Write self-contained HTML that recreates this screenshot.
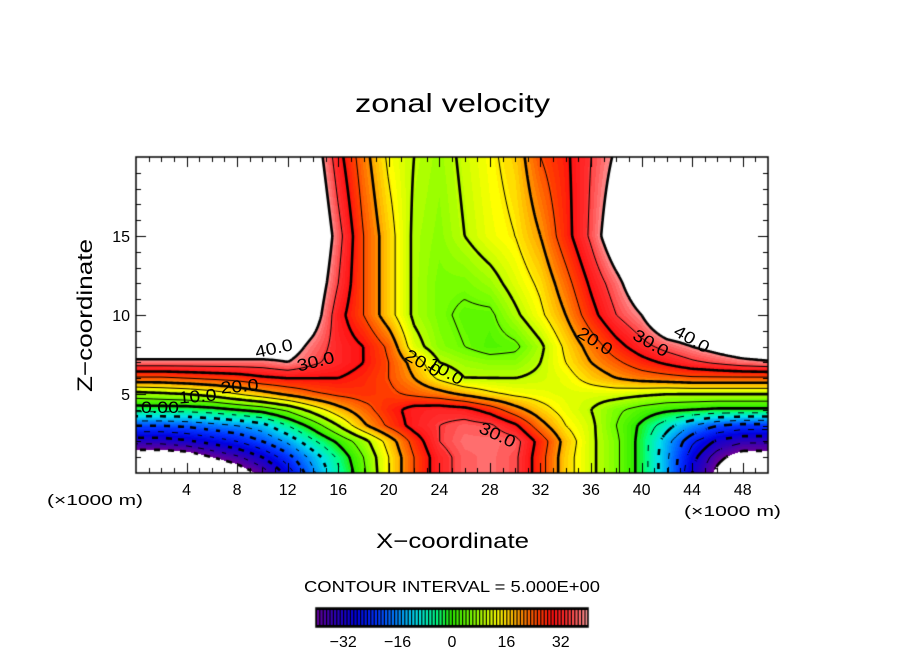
<!DOCTYPE html>
<html><head><meta charset="utf-8"><style>
html,body{margin:0;padding:0;background:#fff;width:904px;height:654px;overflow:hidden}
#wrap{position:relative;width:904px;height:654px;font-family:"Liberation Sans",sans-serif}
canvas{position:absolute;left:0;top:0}
svg{position:absolute;left:0;top:0}
text{font-family:"Liberation Sans",sans-serif;fill:#000}
</style></head><body>
<div id="wrap">
<canvas id="cv" width="904" height="654"></canvas>
<svg id="sv" width="904" height="654">
<text x="355" y="112" font-size="26" textLength="195" lengthAdjust="spacingAndGlyphs">zonal velocity</text>
<text x="376" y="548" font-size="21" textLength="153" lengthAdjust="spacingAndGlyphs">X−coordinate</text>
<text x="0" y="0" font-size="21" textLength="153" lengthAdjust="spacingAndGlyphs" transform="translate(92,392) rotate(-90)">Z−coordinate</text>
<text x="47" y="505" font-size="15" textLength="96" lengthAdjust="spacingAndGlyphs">(×1000 m)</text>
<text x="684" y="516" font-size="15" textLength="97" lengthAdjust="spacingAndGlyphs">(×1000 m)</text>
<text x="304" y="592" font-size="16" textLength="296" lengthAdjust="spacingAndGlyphs">CONTOUR INTERVAL = 5.000E+00</text>
<g id="clabels" font-size="17">
<text transform="translate(275,354) rotate(-12)" text-anchor="middle" textLength="38" lengthAdjust="spacingAndGlyphs">40.0</text>
<text transform="translate(317,367) rotate(-14)" text-anchor="middle" textLength="38" lengthAdjust="spacingAndGlyphs">30.0</text>
<text transform="translate(240,392) rotate(-5)" text-anchor="middle" textLength="38" lengthAdjust="spacingAndGlyphs">20.0</text>
<text transform="translate(198,402) rotate(-5)" text-anchor="middle" textLength="38" lengthAdjust="spacingAndGlyphs">10.0</text>
<text transform="translate(160,413)" text-anchor="middle" textLength="38" lengthAdjust="spacingAndGlyphs">0.00</text>
<text transform="translate(420,368) rotate(30)" text-anchor="middle" textLength="38" lengthAdjust="spacingAndGlyphs">20.0</text>
<text transform="translate(443,376) rotate(30)" text-anchor="middle" textLength="38" lengthAdjust="spacingAndGlyphs">10.0</text>
<text transform="translate(495,440) rotate(25)" text-anchor="middle" textLength="38" lengthAdjust="spacingAndGlyphs">30.0</text>
<text transform="translate(592,346) rotate(32)" text-anchor="middle" textLength="38" lengthAdjust="spacingAndGlyphs">20.0</text>
<text transform="translate(648,348) rotate(30)" text-anchor="middle" textLength="38" lengthAdjust="spacingAndGlyphs">30.0</text>
<text transform="translate(689,344) rotate(30)" text-anchor="middle" textLength="38" lengthAdjust="spacingAndGlyphs">40.0</text>
</g>
<g id="axes"></g>
</svg>
</div>
<script>
// ---- data ----
const xCoords = [0,2,4,6,8,10,12,14,16,18,20,22,24,26,28,30,32,34,36,38,40,42,44,46,48,50];
const zCoords = [0,1,2,3,4,5,6,7,8,10,12,15,20];
const row0  = [-50,-50,-50,-50,-45,-38,-28,-16,-6,4,15,25,33,37,38,36,27,17,11,6,-2,-14,-30,-42,-50,-50];
const row1  = [-46,-46,-45,-40,-36,-30,-22,-13,-4,5,15,25,33,37,38,36,27,17,11,6,-2,-14,-28,-38,-44,-44];
const row2  = [-33,-33,-31,-28,-25,-20,-14,-6,1,8,17,27,35,38,38,37,28,18,11,6,-2,-13,-24,-31,-34,-34];
const row3  = [-20,-20,-19,-17,-15,-12,-5,2,10,19,26,32,35,37,36,31,22,15,11,5,-1,-8,-15,-20,-22,-22];
const row4  = [-3,-3,-3,-2,0,2,6,12,18,23,28,32,33,32,28,22,17,13,10,6,3,1,0,-1,-1,-1];
const row5  = [8,9,10,12,15,18,21,24,26,27,26,24,22,19,16,14,13,12,12,12,11,10,10,10,10,10];
const row6  = [24,24,25,26,27,29,30,30,30,28,25,20,14,10,10,10,11,13,17,20,22,23,24,24,24,24];
const row7  = [38,38,38,38,38,38,40,36,33,30,25,18,10,8,7,7,10,15,20,24,28,31,34,36,38,39];
const row8  = [48,48,48,48,48,48,44,38,33,30,24,12,7,5,3,4,9,16,22,28,33,37,40,43,46,48];
const row10 = [50,50,50,50,50,50,50,44,32,25,17,9,6,4,4,9,14,20,28,35,40,50,50,50,50,50];
const row12 = [50,50,50,50,50,50,50,46,35,25,17,9,6,6,8,12,16,23,31,38,46,50,50,50,50,50];
const row15 = [50,50,50,50,50,50,50,50,37,25,17,9,7,10,13,15,20,28,36,46,50,50,50,50,50,50];
const row20 = [50,50,50,50,50,50,50,45,32,22,14,10,8,11,14,17,25,29,35,41,50,50,50,50,50,50];
const fieldRows = [row0,row1,row2,row3,row4,row5,row6,row7,row8,row10,row12,row15,row20];
const levels = [-40,-35,-30,-25,-20,-15,-10,-5,0,5,10,15,20,25,30,35,40];
const xTickLabels = [4,8,12,16,20,24,28,32,36,40,44,48];
const zTickLabels = [5,10,15];
const cbarTickLabels = [-32,-16,0,16,32];

// ---- layout ----
const PX0=136, PX1=768, PY0=157, PY1=473;
const XMIN=0, XMAX=50, ZMIN=0, ZMAX=20;
const sx = x => PX0 + (x-XMIN)/(XMAX-XMIN)*(PX1-PX0);
const sz = z => PY1 - (z-ZMIN)/(ZMAX-ZMIN)*(PY1-PY0);
const ix = px => XMIN + (px-PX0)/(PX1-PX0)*(XMAX-XMIN);
const iz = py => ZMIN + (PY1-py)/(PY1-PY0)*(ZMAX-ZMIN);

function findIdx(arr,v){let i=0;while(i<arr.length-2&&v>arr[i+1])i++;return i;}
function field(x,z){
  const i=findIdx(xCoords,x), j=findIdx(zCoords,z);
  const tx=Math.min(1,Math.max(0,(x-xCoords[i])/(xCoords[i+1]-xCoords[i])));
  const tz=Math.min(1,Math.max(0,(z-zCoords[j])/(zCoords[j+1]-zCoords[j])));
  const a=fieldRows[j][i],b=fieldRows[j][i+1],c=fieldRows[j+1][i],d=fieldRows[j+1][i+1];
  return (a*(1-tx)+b*tx)*(1-tz)+(c*(1-tx)+d*tx)*tz;
}
const cstops=[[-40,[105,0,150]],[-34,[45,0,185]],[-28,[0,0,225]],[-22,[0,50,255]],[-16,[0,130,255]],[-10,[0,225,235]],[-4,[0,255,130]],[0,[40,235,0]],[6,[120,255,0]],[10,[190,255,0]],[14,[255,255,0]],[18,[255,190,0]],[22,[255,120,0]],[26,[255,60,0]],[30,[255,15,15]],[34,[255,45,45]],[38,[255,110,110]],[40,[255,150,150]]];
function cmap(v){
  v=Math.round(v);
  if(v<=cstops[0][0])return cstops[0][1];
  for(let k=0;k<cstops.length-1;k++){
    const [v0,c0]=cstops[k],[v1,c1]=cstops[k+1];
    if(v<=v1){const t=(v-v0)/(v1-v0);return c0.map((c,m)=>Math.round(c+(c1[m]-c)*t));}
  }
  return cstops[cstops.length-1][1];
}
const cv=document.getElementById('cv'), ctx=cv.getContext('2d');
const W=PX1-PX0, H=PY1-PY0;
const img=ctx.createImageData(W,H);
for(let py=0;py<H;py++)for(let px=0;px<W;px++){
  const v=field(ix(PX0+px+0.5),iz(PY0+py+0.5));
  const o=(py*W+px)*4;
  let c=[255,255,255];
  if(v>=-40&&v<=40)c=cmap(v);
  img.data[o]=c[0];img.data[o+1]=c[1];img.data[o+2]=c[2];img.data[o+3]=255;
}
ctx.putImageData(img,PX0,PY0);
const S=2, NX=Math.floor(W/S)+1, NY=Math.floor(H/S)+1;
const g=[];for(let j=0;j<NY;j++){g[j]=[];for(let i=0;i<NX;i++)g[j][i]=field(ix(PX0+i*S),iz(PY0+j*S));}
ctx.save();ctx.beginPath();ctx.rect(PX0,PY0,W,H);ctx.clip();
levels.forEach(L=>{
  ctx.lineWidth=(L%10===0)?2.6:1;ctx.strokeStyle='#000';ctx.beginPath();
  for(let j=0;j<NY-1;j++)for(let i=0;i<NX-1;i++){
    const x0=PX0+i*S,y0=PY0+j*S;
    const v=[g[j][i],g[j][i+1],g[j+1][i+1],g[j+1][i]];
    const P=[[x0,y0],[x0+S,y0],[x0+S,y0+S],[x0,y0+S]];
    const pts=[];
    for(let e=0;e<4;e++){const a=v[e],b=v[(e+1)%4];
      if((a<L)!==(b<L)){const t=(L-a)/(b-a);const A=P[e],B=P[(e+1)%4];pts.push([A[0]+(B[0]-A[0])*t,A[1]+(B[1]-A[1])*t]);}}
    if(L<0&&Math.floor((x0+y0)/7)%2===1)continue;
    for(let k=0;k+1<pts.length;k+=2){ctx.moveTo(pts[k][0],pts[k][1]);ctx.lineTo(pts[k+1][0],pts[k+1][1]);}
  }
  ctx.stroke();
});
ctx.restore();
ctx.strokeStyle='#000';ctx.lineWidth=1.5;ctx.strokeRect(PX0,PY0,W,H);
ctx.lineWidth=1;ctx.beginPath();
for(let x=1;x<50;x++){const len=(x%4===0)?10:5;const p=Math.round(sx(x))+0.5;
  ctx.moveTo(p,PY1);ctx.lineTo(p,PY1-len);ctx.moveTo(p,PY0);ctx.lineTo(p,PY0+len);}
for(let z=1;z<20;z++){const len=(z%5===0)?10:5;const p=Math.round(sz(z))+0.5;
  ctx.moveTo(PX0,p);ctx.lineTo(PX0+len,p);ctx.moveTo(PX1,p);ctx.lineTo(PX1-len,p);}
ctx.stroke();
const CB0=316,CB1=588,CBY=608,CBH=19,CBMIN=-40,CBMAX=40;
const cbx=v=>CB0+(v-CBMIN)/(CBMAX-CBMIN)*(CB1-CB0);
ctx.fillStyle='#000';ctx.fillRect(CB0,CBY,CB1-CB0,CBH);
for(let v=-40;v<40;v++){const c=cmap(v+0.5);ctx.fillStyle=`rgb(${c[0]},${c[1]},${c[2]})`;
  const a=cbx(v),b=cbx(v+1);ctx.fillRect(a+1,CBY+2,b-a-1.2,CBH-4);}
ctx.lineWidth=1.5;ctx.strokeRect(CB0,CBY,CB1-CB0,CBH);
const ns='http://www.w3.org/2000/svg', axes=document.getElementById('axes');
xTickLabels.forEach(x=>{const t=document.createElementNS(ns,'text');
  
  
  t.setAttribute('x',sx(x));t.setAttribute('y',PY1+22);t.setAttribute('font-size','16');t.setAttribute('text-anchor','middle');t.textContent=x;axes.appendChild(t);});
zTickLabels.forEach(z=>{const t=document.createElementNS(ns,'text');
  
  
  t.setAttribute('x',PX0-6);t.setAttribute('y',sz(z)+6);t.setAttribute('font-size','16');t.setAttribute('text-anchor','end');t.textContent=z;axes.appendChild(t);});
cbarTickLabels.forEach(v=>{const t=document.createElementNS(ns,'text');
  
  
  t.setAttribute('x',cbx(v));t.setAttribute('y',647);t.setAttribute('font-size','16');t.setAttribute('text-anchor','middle');t.textContent=(v<0?'−'+(-v):v);axes.appendChild(t);});
</script>
</body></html>
